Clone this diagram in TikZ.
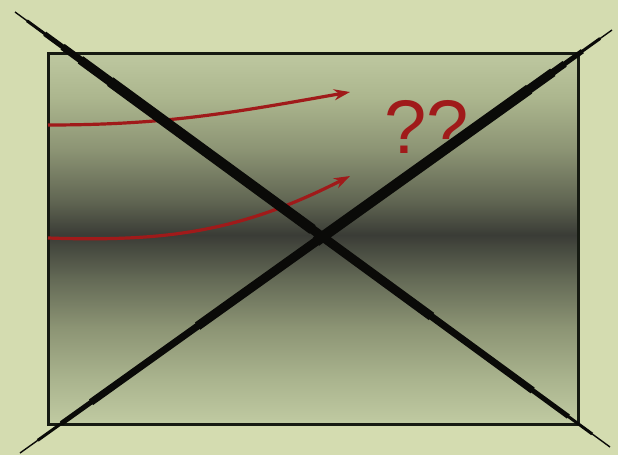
\documentclass[tikz,border=0pt]{standalone}
\usepackage{fontspec}
\setmainfont{Liberation Sans}
\usepackage{xcolor}
\usepackage{tikz}
\usetikzlibrary{arrows.meta,positioning,calc}

\definecolor{bgpale}{RGB}{212,220,176}
\definecolor{frameink}{RGB}{22,26,18}
\definecolor{penred}{RGB}{160,26,26}
\definecolor{crossink}{RGB}{10,10,8}
\definecolor{shA}{RGB}{192,202,162}
\definecolor{shB}{RGB}{170,180,142}
\definecolor{shC}{RGB}{140,148,116}
\definecolor{shD}{RGB}{100,106,86}
\definecolor{shE}{RGB}{58,60,54}
\definecolor{shF}{RGB}{96,101,82}
\definecolor{shG}{RGB}{140,148,116}
\definecolor{shH}{RGB}{172,182,142}
\definecolor{shI}{RGB}{190,200,160}
\pgfdeclareverticalshading{panelshade}{100bp}{color(0bp)=(shA); color(25bp)=(shA);
  color(31bp)=(shB); color(38bp)=(shC); color(44.5bp)=(shD); color(50.5bp)=(shE);
  color(55bp)=(shF); color(62bp)=(shG); color(69bp)=(shH); color(75bp)=(shI); color(100bp)=(shI)}

\begin{document}
\begin{tikzpicture}[
  x=1pt,y=-1pt,
  every node/.style={inner sep=0pt},
  panel/.style={draw=frameink,line width=3pt,shading=panelshade},
  redarrow/.style={draw=penred,line width=3.2pt,-{Stealth[length=16pt,width=11pt]}},
  ink/.style={draw=crossink,line width=#1}
]
% backdrop and panel
\fill[bgpale] (0,0) rectangle (618,455);
\useasboundingbox (0,0) rectangle (618,455);
\coordinate (pnw) at (48,53);
\coordinate (pse) at (578,424);
\path[panel] (pnw) rectangle (pse);

% red arrows
\coordinate (ar1s) at (48,125);
\coordinate (ar1e) at (350,92);
\coordinate (ar2s) at (48,238);
\coordinate (ar2e) at (350,176);
\draw[redarrow] (ar1s) to[out=0,in=190] (ar1e);
\draw[redarrow] (ar2s) to[out=-2,in=207] (ar2e);
\node[text=penred,font=\fontsize{76}{80}\selectfont] (ask) at (427,127) {??};

% the cross, layered to taper the ends
\coordinate (xa1) at (15,12);
\coordinate (xa2) at (610,447);
\coordinate (xb1) at (20,453);
\coordinate (xb2) at (612,30);
\foreach \w/\a/\b in {1.4pt/0/1, 3pt/0.02/0.97, 5pt/0.05/0.93, 7pt/0.08/0.87, 9pt/0.11/0.7, 10.5pt/0.16/0.5}
  \draw[ink=\w] ($(xa1)!\a!(xa2)$) -- ($(xa1)!\b!(xa2)$);
\foreach \w/\a/\b in {1.4pt/0/1, 3pt/0.03/0.98, 5pt/0.07/0.95, 7pt/0.12/0.92, 9pt/0.3/0.9, 10.5pt/0.5/0.86}
  \draw[ink=\w] ($(xb1)!\a!(xb2)$) -- ($(xb1)!\b!(xb2)$);
\end{tikzpicture}
\end{document}
